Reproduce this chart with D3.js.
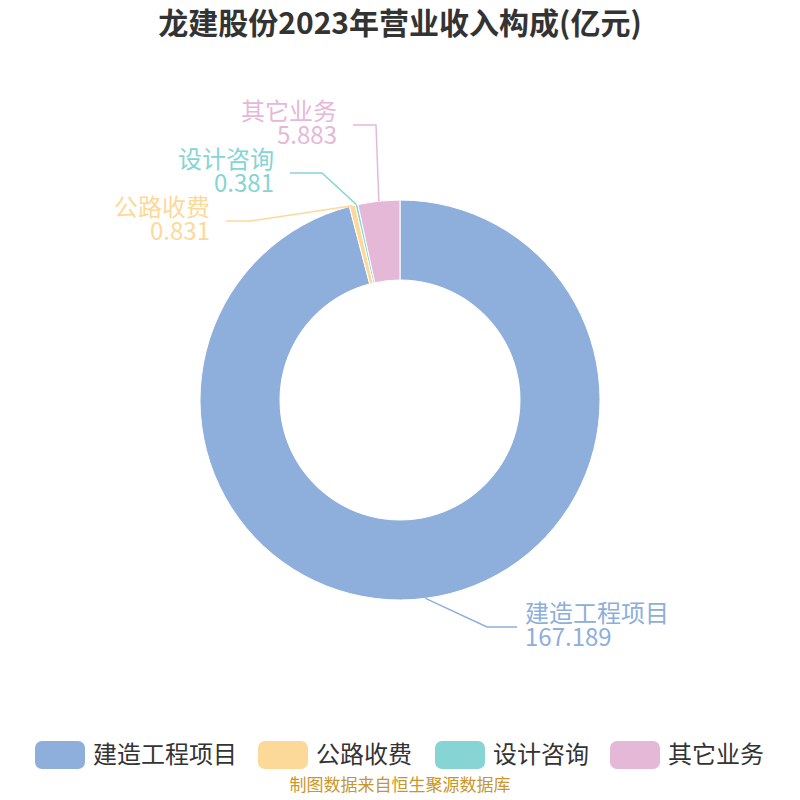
<!DOCTYPE html>
<html><head><meta charset="utf-8">
<script src="https://cdn.jsdelivr.net/npm/d3@7"></script>
<style>body{margin:0;background:#fff}svg{font-family:"Noto Sans CJK SC","Noto Sans",sans-serif}</style>
</head><body><svg id="c" width="800" height="800"></svg>
<script>
const categories = ["建造工程项目", "公路收费", "设计咨询", "其它业务"];
const values = [167.189, 0.831, 0.381, 5.883];
const colors = ["#8eaedb", "#fdd999", "#86d4d4", "#e6b8d8"];
// label anchor positions [elbow x, elbow y, text end x, side]
const labelPos = [[487, 627, 525, 1], [250, 221, 218, -1], [322, 173, 282, -1], [376, 125, 345, -1]];

const svg = d3.select("#c");
svg.append("text").attr("x", 400).attr("y", 34).attr("text-anchor", "middle")
  .attr("font-size", 30).attr("font-weight", "bold").attr("fill", "#333")
  .text("龙建股份2023年营业收入构成(亿元)");

const cx = 400, cy = 400, rOut = 200, rIn = 120;
const pie = d3.pie().sort(null).value(d => d)(values);
const arc = d3.arc().innerRadius(rIn).outerRadius(rOut);
const g = svg.append("g").attr("transform", `translate(${cx},${cy})`);
g.selectAll("path").data(pie).enter().append("path")
  .attr("d", arc).attr("fill", (d, i) => colors[i])
  .attr("stroke", "#fff").attr("stroke-width", 1);

pie.forEach((d, i) => {
  const a = (d.startAngle + d.endAngle) / 2;
  const sx = cx + Math.sin(a) * rOut, sy = cy - Math.cos(a) * rOut;
  const [ex, ey, tx, side] = labelPos[i];
  svg.append("polyline")
    .attr("points", `${sx},${sy} ${ex},${ey} ${tx - side * 8},${ey}`)
    .attr("fill", "none").attr("stroke", colors[i]).attr("stroke-width", 1.5);
  const t = svg.append("text").attr("fill", colors[i]).attr("font-size", 24)
    .attr("text-anchor", side > 0 ? "start" : "end");
  const x = side > 0 ? tx : tx - 8;
  t.append("tspan").attr("x", x).attr("y", ey - 5).text(categories[i]);
  t.append("tspan").attr("x", x).attr("y", ey + 19).text(values[i]);
});

const legX = [35, 258, 435, 610];
categories.forEach((c, i) => {
  svg.append("rect").attr("x", legX[i]).attr("y", 741).attr("width", 50).attr("height", 28)
    .attr("rx", 7).attr("fill", colors[i]);
  svg.append("text").attr("x", legX[i] + 58).attr("y", 763).attr("font-size", 24)
    .attr("fill", "#333").text(c);
});
svg.append("text").attr("x", 400).attr("y", 791).attr("text-anchor", "middle")
  .attr("font-size", 17).attr("fill", "#c8962c").text("制图数据来自恒生聚源数据库");
</script></body></html>
